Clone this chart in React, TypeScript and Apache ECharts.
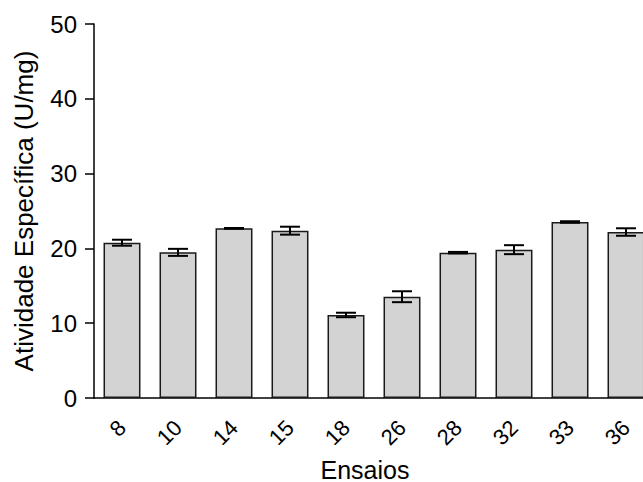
import React, { useEffect, useRef } from "react";
import * as echarts from "echarts";

const categories = ["8", "10", "14", "15", "18", "26", "28", "32", "33", "36"];
const values = [20.76, 19.47, 22.68, 22.37, 11.1, 13.54, 19.43, 19.83, 23.53, 22.19];
const errors = [0.4, 0.47, 0.05, 0.53, 0.3, 0.73, 0.1, 0.6, 0.1, 0.5];

export default function App() {
  const ref = useRef<HTMLDivElement>(null);
  useEffect(() => {
    const chart = echarts.init(ref.current!, undefined, { renderer: "svg" });
    const font = "Liberation Sans, Arial, sans-serif";
    chart.setOption({
      animation: false,
      backgroundColor: "#ffffff",
      grid: {
        left: 94,
        top: 24,
        right: -11,
        bottom: 84,
        containLabel: false,
        outerBoundsMode: "none",
      },
      xAxis: {
        type: "category",
        data: categories,
        name: "Ensaios",
        nameLocation: "middle",
        nameGap: 59,
        nameTextStyle: { fontFamily: font, fontSize: 25, color: "#000", padding: [0, 18, 0, 0] },
        axisLine: { lineStyle: { color: "#000", width: 1.5 } },
        axisTick: { alignWithLabel: true, length: 9, lineStyle: { color: "#000", width: 1.5 } },
        axisLabel: {
          rotate: 45,
          margin: 26,
          fontFamily: font,
          fontSize: 22,
          color: "#000",
        },
      },
      yAxis: {
        type: "value",
        min: 0,
        max: 50,
        interval: 10,
        name: "Atividade Específica (U/mg)",
        nameLocation: "middle",
        nameGap: 57,
        nameTextStyle: { fontFamily: font, fontSize: 26, color: "#000" },
        axisLine: { show: true, lineStyle: { color: "#000", width: 1.5 } },
        axisTick: { show: true, length: 9, lineStyle: { color: "#000", width: 1.5 } },
        axisLabel: { margin: 17, fontFamily: font, fontSize: 24, color: "#000" },
        splitLine: { show: false },
      },
      series: [
        {
          type: "bar",
          data: values,
          barCategoryGap: "34%",
          itemStyle: { color: "#d3d3d3", borderColor: "#1a1a1a", borderWidth: 1.5 },
        },
        {
          type: "custom",
          data: values.map((v, i) => [i, v - errors[i], v + errors[i]]),
          z: 10,
          renderItem: (params: any, api: any) => {
            const x = api.value(0);
            const lo = api.coord([x, api.value(1)]);
            const hi = api.coord([x, api.value(2)]);
            const half = 10;
            const style = { stroke: "#000", lineWidth: 2 };
            return {
              type: "group",
              children: [
                { type: "line", shape: { x1: lo[0], y1: lo[1], x2: hi[0], y2: hi[1] }, style },
                { type: "line", shape: { x1: lo[0] - half, y1: lo[1], x2: lo[0] + half, y2: lo[1] }, style },
                { type: "line", shape: { x1: hi[0] - half, y1: hi[1], x2: hi[0] + half, y2: hi[1] }, style },
              ],
            };
          },
        },
      ],
    });
    return () => chart.dispose();
  }, []);
  return (
    <div
      ref={ref}
      style={{ position: "fixed", left: 0, top: 0, width: 643, height: 482 }}
    />
  );
}
